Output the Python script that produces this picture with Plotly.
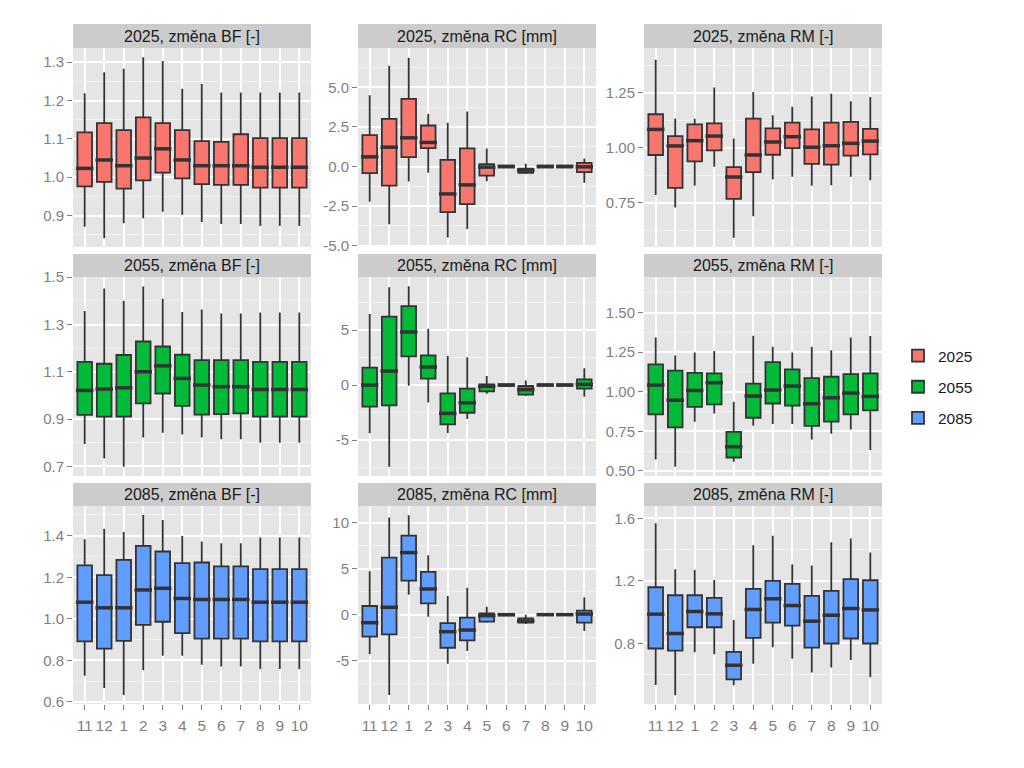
import numpy as np
import plotly.graph_objects as go

# ---------------- data ----------------
MONTHS = ["11", "12", "1", "2", "3", "4", "5", "6", "7", "8", "9", "10"]
YEARS = ["2025", "2055", "2085"]
VARS = ["BF [-]", "RC [mm]", "RM [-]"]

# BF 2025
BF25_LO = [0.871, 0.841, 0.880, 0.893, 0.910, 0.902, 0.883, 0.878, 0.878, 0.873, 0.873, 0.873]
BF25_Q1 = [0.976, 0.988, 0.970, 0.992, 1.012, 0.997, 0.982, 0.980, 0.980, 0.973, 0.973, 0.973]
BF25_MED = [1.023, 1.045, 1.030, 1.050, 1.074, 1.045, 1.030, 1.030, 1.030, 1.026, 1.026, 1.026]
BF25_Q3 = [1.117, 1.141, 1.123, 1.156, 1.141, 1.123, 1.094, 1.092, 1.112, 1.102, 1.102, 1.102]
BF25_HI = [1.219, 1.274, 1.283, 1.313, 1.303, 1.231, 1.243, 1.221, 1.221, 1.221, 1.221, 1.221]
# RC 2025
RC25_LO = [-2.23, -3.64, -0.95, -0.40, -4.48, -3.94, -0.93, -0.10, -0.48, -0.08, -0.08, -1.03]
RC25_Q1 = [-0.42, -1.20, 0.59, 1.16, -2.88, -2.38, -0.57, -0.06, -0.40, -0.05, -0.05, -0.36]
RC25_MED = [0.61, 1.22, 1.81, 1.52, -1.73, -1.16, -0.04, 0.0, -0.23, 0.0, 0.0, -0.02]
RC25_Q3 = [1.98, 3.01, 4.27, 2.59, 0.42, 1.14, 0.15, 0.05, -0.13, 0.05, 0.05, 0.23]
RC25_HI = [4.50, 6.36, 6.86, 3.33, 2.76, 3.47, 1.14, 0.08, 0.17, 0.07, 0.07, 0.50]
# RM 2025
RM25_LO = [0.785, 0.729, 0.827, 0.914, 0.591, 0.689, 0.856, 0.868, 0.827, 0.830, 0.868, 0.852]
RM25_Q1 = [0.967, 0.818, 0.938, 0.988, 0.768, 0.889, 0.968, 0.998, 0.927, 0.923, 0.964, 0.970]
RM25_MED = [1.083, 1.008, 1.032, 1.053, 0.867, 0.967, 1.026, 1.050, 1.002, 1.009, 1.020, 1.030]
RM25_Q3 = [1.152, 1.053, 1.106, 1.111, 0.912, 1.132, 1.088, 1.114, 1.083, 1.114, 1.117, 1.086]
RM25_HI = [1.400, 1.133, 1.132, 1.273, 1.042, 1.253, 1.148, 1.186, 1.233, 1.245, 1.211, 1.230]
# BF 2055
BF55_LO = [0.794, 0.733, 0.698, 0.822, 0.842, 0.835, 0.822, 0.814, 0.814, 0.800, 0.800, 0.800]
BF55_Q1 = [0.918, 0.910, 0.910, 0.966, 1.008, 0.956, 0.919, 0.921, 0.924, 0.910, 0.910, 0.910]
BF55_MED = [1.021, 1.027, 1.032, 1.100, 1.125, 1.072, 1.044, 1.037, 1.037, 1.025, 1.025, 1.025]
BF55_Q3 = [1.142, 1.134, 1.171, 1.228, 1.207, 1.172, 1.149, 1.149, 1.149, 1.142, 1.142, 1.142]
BF55_HI = [1.357, 1.452, 1.400, 1.461, 1.409, 1.353, 1.364, 1.347, 1.347, 1.351, 1.351, 1.351]
# RC 2055
RC55_LO = [-4.39, -7.42, -0.06, -1.58, -4.36, -3.09, -0.79, -0.15, -1.00, -0.12, -0.12, -1.06]
RC55_Q1 = [-1.97, -1.85, 2.61, 0.58, -3.58, -2.52, -0.58, -0.08, -0.88, -0.06, -0.06, -0.33]
RC55_MED = [0.0, 1.27, 4.82, 1.64, -2.58, -1.61, -0.12, 0.0, -0.42, 0.0, 0.0, 0.06]
RC55_Q3 = [1.58, 6.21, 7.18, 2.70, -0.76, -0.33, 0.06, 0.06, -0.09, 0.06, 0.06, 0.52]
RC55_HI = [6.45, 8.88, 8.97, 5.12, 2.64, 2.52, 0.82, 0.12, 0.42, 0.10, 0.10, 1.52]
# RM 2055
RM55_LO = [0.573, 0.526, 0.810, 0.863, 0.558, 0.785, 0.796, 0.796, 0.699, 0.735, 0.762, 0.632]
RM55_Q1 = [0.857, 0.775, 0.905, 0.920, 0.585, 0.836, 0.926, 0.912, 0.785, 0.811, 0.857, 0.882]
RM55_MED = [1.042, 0.947, 1.008, 1.057, 0.653, 0.973, 1.011, 1.036, 0.924, 0.962, 0.992, 0.971]
RM55_Q3 = [1.173, 1.133, 1.120, 1.116, 0.747, 1.051, 1.187, 1.141, 1.086, 1.095, 1.112, 1.116]
RM55_HI = [1.343, 1.229, 1.248, 1.257, 0.937, 1.354, 1.284, 1.248, 1.284, 1.263, 1.343, 1.352]
# BF 2085
BF85_LO = [0.726, 0.667, 0.633, 0.752, 0.822, 0.822, 0.779, 0.771, 0.771, 0.758, 0.758, 0.758]
BF85_Q1 = [0.891, 0.857, 0.894, 0.971, 0.986, 0.931, 0.905, 0.905, 0.905, 0.891, 0.891, 0.891]
BF85_MED = [1.080, 1.053, 1.053, 1.139, 1.147, 1.098, 1.093, 1.093, 1.093, 1.080, 1.080, 1.080]
BF85_Q3 = [1.257, 1.210, 1.284, 1.351, 1.324, 1.268, 1.271, 1.252, 1.252, 1.239, 1.239, 1.239]
BF85_HI = [1.383, 1.434, 1.418, 1.500, 1.476, 1.399, 1.372, 1.364, 1.364, 1.391, 1.391, 1.391]
# RC 2085
RC85_LO = [-4.31, -8.73, 2.17, -0.22, -5.33, -3.95, -0.87, -0.10, -1.00, -0.08, -0.08, -1.78]
RC85_Q1 = [-2.39, -2.14, 3.70, 1.23, -3.59, -2.79, -0.76, -0.08, -0.87, -0.05, -0.05, -0.87]
RC85_MED = [-0.87, 0.80, 6.74, 2.79, -1.85, -1.67, -0.11, 0.0, -0.69, 0.0, 0.0, 0.07]
RC85_Q3 = [0.94, 6.20, 8.59, 4.64, -0.91, -0.33, 0.14, 0.05, -0.40, 0.05, 0.05, 0.43]
RC85_HI = [4.71, 10.54, 10.80, 6.45, 2.03, 2.93, 0.87, 0.08, 0.00, 0.07, 0.07, 1.88]
# RM 2085
RM85_LO = [0.534, 0.468, 0.743, 0.731, 0.532, 0.669, 0.775, 0.701, 0.613, 0.645, 0.694, 0.583]
RM85_Q1 = [0.767, 0.754, 0.903, 0.903, 0.569, 0.835, 0.933, 0.914, 0.773, 0.799, 0.831, 0.799]
RM85_MED = [0.987, 0.863, 1.004, 0.989, 0.660, 1.017, 1.085, 1.042, 0.942, 0.980, 1.023, 1.014]
RM85_Q3 = [1.159, 1.108, 1.108, 1.091, 0.746, 1.149, 1.200, 1.181, 1.104, 1.136, 1.211, 1.204]
RM85_HI = [1.569, 1.275, 1.270, 1.206, 0.950, 1.428, 1.488, 1.307, 1.298, 1.447, 1.471, 1.381]

# y tick labels per panel
TICKS_BF25 = ["0.9", "1.0", "1.1", "1.2", "1.3"]
TICKS_RC25 = ["-5.0", "-2.5", "0.0", "2.5", "5.0"]
TICKS_RM25 = ["0.75", "1.00", "1.25"]
TICKS_BF55 = ["0.7", "0.9", "1.1", "1.3", "1.5"]
TICKS_RC55 = ["-5", "0", "5"]
TICKS_RM55 = ["0.50", "0.75", "1.00", "1.25", "1.50"]
TICKS_BF85 = ["0.6", "0.8", "1.0", "1.2", "1.4"]
TICKS_RC85 = ["-5", "0", "5", "10"]
TICKS_RM85 = ["0.8", "1.2", "1.6"]

# ---------------- styling ----------------
FILLS = {"2025": "#F8766D", "2055": "#00BA38", "2085": "#619CFF"}
LINE = "#333333"
FONT = "Liberation Sans"

panels = [
    ("2025", "BF [-]", BF25_LO, BF25_Q1, BF25_MED, BF25_Q3, BF25_HI, TICKS_BF25, [0.818, 1.337]),
    ("2025", "RC [mm]", RC25_LO, RC25_Q1, RC25_MED, RC25_Q3, RC25_HI, TICKS_RC25, [-5.08, 7.48]),
    ("2025", "RM [-]", RM25_LO, RM25_Q1, RM25_MED, RM25_Q3, RM25_HI, TICKS_RM25, [0.549, 1.453]),
    ("2055", "BF [-]", BF55_LO, BF55_Q1, BF55_MED, BF55_Q3, BF55_HI, TICKS_BF55, [0.659, 1.501]),
    ("2055", "RC [mm]", RC55_LO, RC55_Q1, RC55_MED, RC55_Q3, RC55_HI, TICKS_RC55, [-8.27, 9.82]),
    ("2055", "RM [-]", RM55_LO, RM55_Q1, RM55_MED, RM55_Q3, RM55_HI, TICKS_RM55, [0.468, 1.725]),
    ("2085", "BF [-]", BF85_LO, BF85_Q1, BF85_MED, BF85_Q3, BF85_HI, TICKS_BF85, [0.590, 1.543]),
    ("2085", "RC [mm]", RC85_LO, RC85_Q1, RC85_MED, RC85_Q3, RC85_HI, TICKS_RC85, [-9.7, 11.8]),
    ("2085", "RM [-]", RM85_LO, RM85_Q1, RM85_MED, RM85_Q3, RM85_HI, TICKS_RM85, [0.412, 1.679]),
]

W, H = 1024, 768
OFF = 8  # page body margin in the browser
COL_X = [(73, 311), (358, 596), (644, 882)]
ROW_PLOT = [(48, 247), (277, 476), (506, 704)]
ROW_STRIP = [(24, 48), (254, 277), (483, 506)]


def px_x(v):
    return (v - OFF) / W


def px_y(v):
    return 1 - (v - OFF) / H


fig = go.Figure()
layout = dict(
    width=W, height=H,
    margin=dict(l=0, r=0, t=0, b=0, autoexpand=False),
    paper_bgcolor="white",
    plot_bgcolor="#E5E5E5",
    font=dict(family=FONT, size=14, color="#1A1A1A"),
    showlegend=True,
    legend=dict(x=px_x(898), y=px_y(387), xanchor="left", yanchor="middle",
                font=dict(family=FONT, size=15.5, color="#1A1A1A"),
                bgcolor="rgba(0,0,0,0)", tracegroupgap=8, itemwidth=30),
    shapes=[], annotations=[],
)

for k, (year, var, lo, q1, med, q3, hi, ticktext, yr) in enumerate(panels):
    r, c = divmod(k, 3)
    ax = "" if k == 0 else str(k + 1)
    xa, ya = "x" + ax, "y" + ax
    x0, x1 = COL_X[c]
    p0, p1 = ROW_PLOT[r]
    s0, s1 = ROW_STRIP[r]

    tickvals = [float(t) for t in ticktext]
    step = tickvals[1] - tickvals[0]
    minor = list(np.arange(tickvals[0] - step / 2, tickvals[-1] + step, step))

    fig.add_trace(go.Box(
        x=MONTHS, q1=q1, median=med, q3=q3, lowerfence=lo, upperfence=hi,
        xaxis=xa, yaxis=ya, name=year, legendgroup=year, showlegend=(c == 0),
        fillcolor=FILLS[year], line=dict(color=LINE, width=1.8),
        whiskerwidth=0, width=0.75, boxpoints=False, hoverinfo="skip",
    ))
    fig.add_trace(go.Scatter(
        x=MONTHS, y=med, mode="markers", xaxis=xa, yaxis=ya, showlegend=False,
        marker=dict(symbol="line-ew", size=12.5, line=dict(color=LINE, width=3.5)),
        hoverinfo="skip",
    ))

    layout["xaxis" + ax] = dict(
        domain=[px_x(x0), px_x(x1)], anchor=ya, type="category",
        categoryorder="array", categoryarray=MONTHS, range=[-0.6, 11.6],
        showgrid=True, gridcolor="white", gridwidth=1.8, zeroline=False,
        showline=False, showticklabels=(r == 2), ticks="outside" if r == 2 else "",
        ticklen=5, tickwidth=1, tickcolor="#7F7F7F", ticklabelstandoff=2,
        tickfont=dict(family=FONT, size=15.5, color="#7F7F7F"),
    )
    layout["yaxis" + ax] = dict(
        domain=[px_y(p1), px_y(p0)], anchor=xa, range=yr,
        tickmode="array", tickvals=tickvals, ticktext=ticktext,
        showgrid=True, gridcolor="white", gridwidth=1.8, zeroline=False,
        showline=False, ticks="outside", ticklen=5, tickwidth=1, tickcolor="#7F7F7F",
        tickfont=dict(family=FONT, size=15, color="#7F7F7F"),
        minor=dict(tickmode="array", tickvals=minor, showgrid=True,
                   gridcolor="#F2F2F2", gridwidth=0.8, ticks=""),
    )
    layout["shapes"].append(dict(
        type="rect", xref="paper", yref="paper",
        x0=px_x(x0), x1=px_x(x1), y0=px_y(s1), y1=px_y(s0),
        fillcolor="#CCCCCC", line=dict(width=0), layer="below",
    ))
    layout["annotations"].append(dict(
        xref="paper", yref="paper", x=px_x((x0 + x1) / 2), y=px_y((s0 + s1) / 2),
        text=f"{year}, změna {var}", showarrow=False, xanchor="center", yanchor="middle",
        font=dict(family=FONT, size=16, color="#1A1A1A"),
    ))

fig.update_layout(**layout)
fig.write_html("out.html")
